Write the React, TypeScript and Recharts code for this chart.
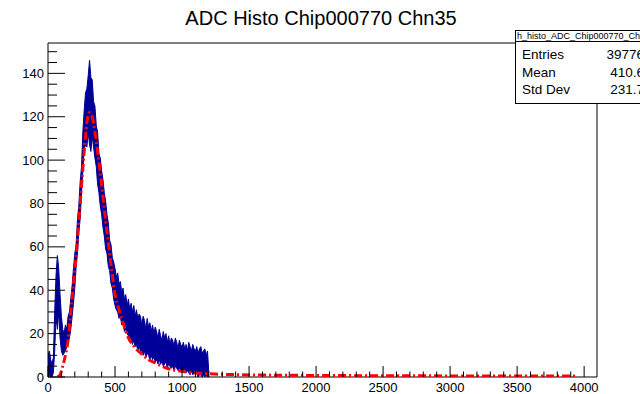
import React from 'react';
import { ComposedChart, Area, Line, XAxis, YAxis, ReferenceArea } from 'recharts';

// ADC bin positions (every 10 counts) for the measured histogram
const adcBins = [
  0, 10, 20, 30, 40, 50, 60, 70, 80, 90,
  100, 110, 120, 130, 140, 150, 160, 170, 180, 190,
  200, 210, 220, 230, 240, 250, 260, 270, 280, 290,
  300, 310, 320, 330, 340, 350, 360, 370, 380, 390,
  400, 410, 420, 430, 440, 450, 460, 470, 480, 490,
  500, 510, 520, 530, 540, 550, 560, 570, 580, 590,
  600, 610, 620, 630, 640, 650, 660, 670, 680, 690,
  700, 710, 720, 730, 740, 750, 760, 770, 780, 790,
  800, 810, 820, 830, 840, 850, 860, 870, 880, 890,
  900, 910, 920, 930, 940, 950, 960, 970, 980, 990,
  1000, 1010, 1020, 1030, 1040, 1050, 1060, 1070, 1080, 1090,
  1100, 1110, 1120, 1130, 1140, 1150, 1160, 1170, 1180, 1190,
  1200,
];

// upper edge of the histogram + error bars
const countsHigh = [
  10, 12, 8, 6, 9, 30, 47, 56, 50, 38,
  28, 22, 20, 24, 22, 28, 30, 36, 42, 50,
  57, 61, 73, 79, 90, 97, 113, 123, 131, 133,
  139, 146, 138, 137, 127, 125, 116, 113, 103, 101,
  95, 91, 85, 81, 75, 71, 63, 61, 55, 53,
  50, 46, 48, 43, 44, 39, 41, 36, 38, 33,
  36, 31, 34, 30, 33, 28, 31, 27, 29, 28,
  24, 28, 26, 22, 27, 23, 25, 21, 24, 20,
  23, 21, 18, 22, 19, 17, 21, 18, 20, 16,
  19, 15, 18, 17, 14, 18, 16, 13, 17, 15,
  14, 16, 13, 15, 12, 16, 14, 12, 15, 13,
  12, 14, 11, 13, 14, 11, 12, 13, 10, 12,
  2,
];

// lower edge of the histogram + error bars
const countsLow = [
  0, 1, 0, 0, 2, 12, 28, 22, 30, 18,
  12, 10, 11, 12, 14, 16, 18, 22, 28, 34,
  41, 51, 57, 67, 73, 85, 95, 105, 107, 106,
  113, 107, 104, 111, 106, 101, 97, 89, 85, 79,
  75, 69, 65, 59, 57, 51, 49, 43, 41, 36,
  33, 31, 30, 27, 28, 24, 25, 21, 22, 20,
  19, 18, 18, 15, 17, 14, 15, 12, 14, 12,
  12, 10, 12, 9, 11, 10, 8, 10, 8, 9,
  7, 8, 6, 8, 6, 7, 5, 6, 7, 4,
  6, 5, 4, 5, 3, 5, 4, 3, 4, 3,
  3, 2, 4, 2, 3, 2, 1, 3, 1, 2,
  1, 2, 0, 1, 1, 0, 1, 0, 1, 0,
  0,
];

// fit curve
const fitAdc = [
  70, 90, 110, 130, 150, 170, 190, 210, 230, 250, 270, 290, 310, 330, 350, 370, 390,
  410, 430, 450, 470, 500, 530, 560, 600, 650, 700, 750, 800, 850, 900, 1000, 1100,
  1200, 1400, 1600, 1800, 2000, 2500, 3000, 3500, 3950,
];
const fitCounts = [
  0, 1, 5, 10, 17, 30, 43, 56, 72, 88, 104, 117, 122, 120, 113, 104, 94,
  83, 72, 62, 52, 38, 31, 25, 18, 13.5, 10.5, 8, 6.5, 5, 3.8, 2.6, 1.9,
  1.5, 1.1, 0.9, 0.8, 0.7, 0.6, 0.5, 0.45, 0.4,
];

const xTicks = [
  0, 100, 200, 300, 400, 500, 600, 700, 800, 900, 1000, 1100, 1200, 1300, 1400, 1500,
  1600, 1700, 1800, 1900, 2000, 2100, 2200, 2300, 2400, 2500, 2600, 2700, 2800, 2900,
  3000, 3100, 3200, 3300, 3400, 3500, 3600, 3700, 3800, 3900, 4000,
];
const xLabels = [0, 500, 1000, 1500, 2000, 2500, 3000, 3500, 4000];
const yTicks = [
  0, 5, 10, 15, 20, 25, 30, 35, 40, 45, 50, 55, 60, 65, 70, 75, 80, 85, 90, 95, 100,
  105, 110, 115, 120, 125, 130, 135, 140, 145, 150,
];
const yLabels = [0, 20, 40, 60, 80, 100, 120, 140];

const stats = [
  { name: 'Entries', value: '39776' },
  { name: 'Mean', value: '410.6' },
  { name: 'Std Dev', value: '231.7' },
];

const FONT = '"Liberation Sans", Arial, Helvetica, sans-serif';

const histRows = adcBins.map((x, i) => ({ x, lo: countsLow[i], hi: countsHigh[i] }));
const fitRows = fitAdc.map((x, i) => ({ x, y: fitCounts[i] }));

function XTick({ x, y, payload }: any) {
  const major = xLabels.includes(payload.value);
  return (
    <g>
      <line x1={x} y1={y} x2={x} y2={y - (major ? 11 : 5.5)} stroke="#000" />
      {major && (
        <text x={x} y={y + 15} textAnchor="middle" fontSize={13} fontFamily={FONT} fill="#000">
          {payload.value}
        </text>
      )}
    </g>
  );
}

function YTick({ x, y, payload }: any) {
  const major = yLabels.includes(payload.value);
  return (
    <g>
      <line x1={x} y1={y} x2={x + (major ? 17 : 9)} y2={y} stroke="#000" />
      {major && (
        <text x={x - 4} y={y + 4.6} textAnchor="end" fontSize={13} fontFamily={FONT} fill="#000">
          {payload.value}
        </text>
      )}
    </g>
  );
}

export default function App() {
  return (
    <div
      style={{
        position: 'absolute',
        left: 0,
        top: 0,
        width: 640,
        height: 394,
        overflow: 'hidden',
        background: '#fff',
        fontFamily: FONT,
      }}
    >
      <div
        style={{
          position: 'absolute',
          left: 1,
          top: 7,
          width: 640,
          textAlign: 'center',
          fontSize: 20,
          lineHeight: '22px',
          color: '#000',
        }}
      >
        ADC Histo Chip000770 Chn35
      </div>

      <ComposedChart width={640} height={394} margin={{ top: 43, right: 43, bottom: 0, left: 0 }}>
        <XAxis
          dataKey="x"
          type="number"
          domain={[0, 4096]}
          allowDataOverflow
          ticks={xTicks}
          interval={0}
          tickSize={0}
          tickMargin={0}
          tickLine={false}
          axisLine={false}
          height={17}
          tick={<XTick />}
        />
        <YAxis
          type="number"
          domain={[0, 154]}
          allowDataOverflow
          ticks={yTicks}
          interval={0}
          tickSize={0}
          tickMargin={0}
          tickLine={false}
          axisLine={false}
          width={48}
          tick={<YTick />}
        />
        <Area
          data={histRows}
          dataKey={(d: any) => [d.lo, d.hi]}
          type="linear"
          stroke="#000099"
          strokeWidth={1}
          fill="#000099"
          fillOpacity={1}
          isAnimationActive={false}
          connectNulls={false}
        />
        <Line
          data={fitRows}
          dataKey="y"
          type="monotone"
          stroke="#ff0000"
          strokeWidth={3}
          strokeDasharray="8 3 2 3"
          dot={false}
          isAnimationActive={false}
        />
        <ReferenceArea x1={0} x2={4096} y1={0} y2={154} fill="none" stroke="#000" strokeWidth={1} />
      </ComposedChart>

      <div
        style={{
          position: 'absolute',
          left: 515,
          top: 30,
          width: 140,
          border: '1px solid #000',
          background: '#fff',
          color: '#000',
        }}
      >
        <div
          style={{
            height: 10,
            lineHeight: '10px',
            fontSize: 9,
            textAlign: 'center',
            whiteSpace: 'nowrap',
            overflow: 'hidden',
            borderBottom: '1px solid #000',
          }}
        >
          h_histo_ADC_Chip000770_Chn35
        </div>
        <div style={{ padding: '4px 12px 4px 6px' }}>
          {stats.map((s) => (
            <div
              key={s.name}
              style={{ display: 'flex', justifyContent: 'space-between', fontSize: 13.5, lineHeight: '17.5px' }}
            >
              <span>{s.name}</span>
              <span>{s.value}</span>
            </div>
          ))}
        </div>
      </div>
    </div>
  );
}
